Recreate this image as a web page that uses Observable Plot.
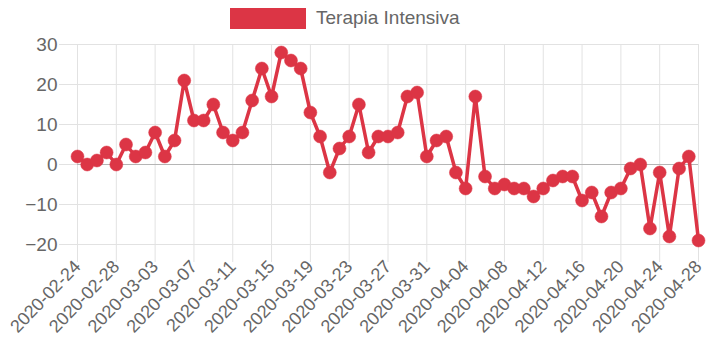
<!DOCTYPE html>
<html>
<head>
<meta charset="utf-8">
<script src="https://cdn.jsdelivr.net/npm/d3@7"></script>
<script src="https://cdn.jsdelivr.net/npm/@observablehq/plot@0.6"></script>
<style>
  body { margin: 0; background: #fff; font-family: "Liberation Sans", Arial, sans-serif; }
  #wrap { width: 710px; height: 356px; position: relative; overflow: hidden; }
  #legend { position: relative; height: 34px; width: 710px; }
  #legend .box { position: absolute; left: 230px; top: 8px; width: 76px; height: 21px; background: #dc3545; }
  #legend .lab { position: absolute; left: 316px; top: 7px; font-size: 19px; line-height: 22px; color: #666; }
</style>
</head>
<body>
<div id="wrap">
  <div id="legend"><div class="box"></div><div class="lab">Terapia Intensiva</div></div>
  <div id="chart"></div>
</div>
<script>
const seriesName = "Terapia Intensiva";
const dates = [
  "2020-02-24","2020-02-25","2020-02-26","2020-02-27","2020-02-28","2020-02-29","2020-03-01","2020-03-02",
  "2020-03-03","2020-03-04","2020-03-05","2020-03-06","2020-03-07","2020-03-08","2020-03-09","2020-03-10",
  "2020-03-11","2020-03-12","2020-03-13","2020-03-14","2020-03-15","2020-03-16","2020-03-17","2020-03-18",
  "2020-03-19","2020-03-20","2020-03-21","2020-03-22","2020-03-23","2020-03-24","2020-03-25","2020-03-26",
  "2020-03-27","2020-03-28","2020-03-29","2020-03-30","2020-03-31","2020-04-01","2020-04-02","2020-04-03",
  "2020-04-04","2020-04-05","2020-04-06","2020-04-07","2020-04-08","2020-04-09","2020-04-10","2020-04-11",
  "2020-04-12","2020-04-13","2020-04-14","2020-04-15","2020-04-16","2020-04-17","2020-04-18","2020-04-19",
  "2020-04-20","2020-04-21","2020-04-22","2020-04-23","2020-04-24","2020-04-25","2020-04-26","2020-04-27",
  "2020-04-28"
];
const values = [
  2, 0, 1, 3, 0, 5, 2, 3,
  8, 2, 6, 21, 11, 11, 15, 8,
  6, 8, 16, 24, 17, 28, 26, 24,
  13, 7, -2, 4, 7, 15, 3, 7,
  7, 8, 17, 18, 2, 6, 7, -2,
  -6, 17, -3, -6, -5, -6, -6, -8,
  -6, -4, -3, -3, -9, -7, -13, -7,
  -6, -1, 0, -16, -2, -18, -1, 2,
  -19
];
const xTickLabels = [
  "2020-02-24","2020-02-28","2020-03-03","2020-03-07","2020-03-11","2020-03-15","2020-03-19","2020-03-23",
  "2020-03-27","2020-03-31","2020-04-04","2020-04-08","2020-04-12","2020-04-16","2020-04-20","2020-04-24","2020-04-28"
];
const yTicks = [-20, -10, 0, 10, 20, 30];

const parse = d3.utcParse("%Y-%m-%d");
const data = dates.map((d, i) => ({date: parse(d), value: values[i]}));
const xTicks = xTickLabels.map(parse);
const red = "#dc3545";

const chart = Plot.plot({
  width: 710,
  height: 322,
  marginTop: 10,
  marginBottom: 112,
  marginLeft: 77,
  marginRight: 12,
  style: {fontFamily: "'Liberation Sans', Arial, sans-serif", background: "#fff"},
  x: {type: "utc", domain: [parse(dates[0]), parse(dates[dates.length - 1])]},
  y: {domain: [-20, 30]},
  marks: [
    Plot.gridX(xTicks, {stroke: "#e2e2e2", strokeOpacity: 1}),
    Plot.gridY(yTicks, {stroke: "#e2e2e2", strokeOpacity: 1}),
    Plot.ruleY([0], {stroke: "#b5b5b5"}),
    Plot.axisY(yTicks, {tickSize: 18, tickPadding: 2, stroke: "#e2e2e2", fill: "#666", fontSize: 19, label: null}),
    Plot.axisX(xTicks, {tickSize: 18, tickPadding: 1, tickRotate: -46, stroke: "#e2e2e2", fill: "#666", fontSize: 18,
      tickFormat: d3.utcFormat("%Y-%m-%d"), label: null}),
    Plot.line(data, {x: "date", y: "value", stroke: red, strokeWidth: 3.5}),
    Plot.dot(data, {x: "date", y: "value", r: 6.5, fill: red, stroke: red, strokeWidth: 0.5, title: d => seriesName})
  ]
});
document.getElementById("chart").appendChild(chart);
</script>
</body>
</html>
